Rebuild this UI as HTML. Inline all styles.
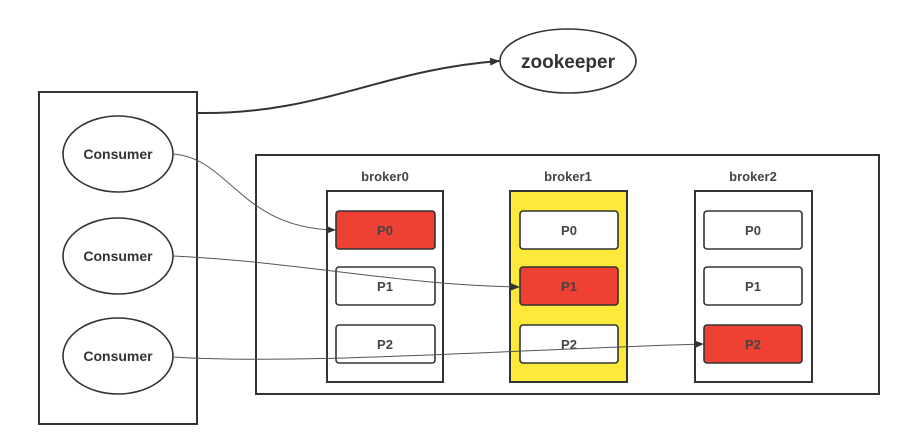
<!DOCTYPE html>
<html><head><style>html,body{margin:0;padding:0;background:#fff}</style></head><body>
<svg width="922" height="431" viewBox="0 0 922 431" xmlns="http://www.w3.org/2000/svg" font-family="Liberation Sans, sans-serif" font-weight="bold">
<defs><marker id="a" markerWidth="10" markerHeight="8" refX="9" refY="4" orient="auto" markerUnits="userSpaceOnUse"><path d="M0,0L10,4L0,8z" fill="#333"/></marker></defs>
<rect x="0" y="0" width="922" height="431" fill="#fff"/>
<rect x="39" y="92" width="158" height="332" fill="none" stroke="#333" stroke-width="2"/>
<g fill="#fff" stroke="#333" stroke-width="1.6">
<ellipse cx="118" cy="154" rx="55" ry="38"/><ellipse cx="118" cy="256" rx="55" ry="38"/><ellipse cx="118" cy="356" rx="55" ry="38"/>
<ellipse cx="568" cy="61" rx="68" ry="32"/>
</g>
<g font-size="14" fill="#333" text-anchor="middle">
<text x="118" y="159">Consumer</text><text x="118" y="261">Consumer</text><text x="118" y="361">Consumer</text>
</g>
<text x="568" y="68" font-size="19" fill="#333" text-anchor="middle">zookeeper</text>
<path d="M197,113 C320,115 380,70 499,61" fill="none" stroke="#333" stroke-width="2" marker-end="url(#a)"/>
<rect x="256" y="155" width="623" height="239" fill="none" stroke="#333" stroke-width="2"/>
<rect x="327" y="191" width="116" height="191" fill="#fff" stroke="#333" stroke-width="2"/>
<rect x="510" y="191" width="117" height="191" fill="#fde93a" stroke="#333" stroke-width="2"/>
<rect x="695" y="191" width="117" height="191" fill="#fff" stroke="#333" stroke-width="2"/>
<g font-size="13" fill="#444" text-anchor="middle">
<text x="385" y="181">broker0</text><text x="568" y="181">broker1</text><text x="753" y="181">broker2</text>
</g>
<g stroke="#333" stroke-width="1.6">
<rect x="336" y="211" width="99" height="38" rx="3" fill="#ef4034"/>
<rect x="336" y="267" width="99" height="38" rx="3" fill="#fff"/>
<rect x="336" y="325" width="99" height="38" rx="3" fill="#fff"/>
<rect x="520" y="211" width="98" height="38" rx="3" fill="#fff"/>
<rect x="520" y="267" width="98" height="38" rx="3" fill="#ef4034"/>
<rect x="520" y="325" width="98" height="38" rx="3" fill="#fff"/>
<rect x="704" y="211" width="98" height="38" rx="3" fill="#fff"/>
<rect x="704" y="267" width="98" height="38" rx="3" fill="#fff"/>
<rect x="704" y="325" width="98" height="38" rx="3" fill="#ef4034"/>
</g>
<g font-size="13" fill="#444" text-anchor="middle">
<text x="385" y="235">P0</text><text x="385" y="291">P1</text><text x="385" y="349">P2</text>
<text x="569" y="235">P0</text><text x="569" y="291">P1</text><text x="569" y="349">P2</text>
<text x="753" y="235">P0</text><text x="753" y="291">P1</text><text x="753" y="349">P2</text>
</g>
<g fill="none" stroke="#555" stroke-width="1" marker-end="url(#a)">
<path d="M173,154 C230,158 240,228 335,230"/>
<path d="M173,256 C300,262 400,285 519,287"/>
<path d="M173,357 C300,365 500,350 703,344"/>
</g>
</svg>
</body></html>
